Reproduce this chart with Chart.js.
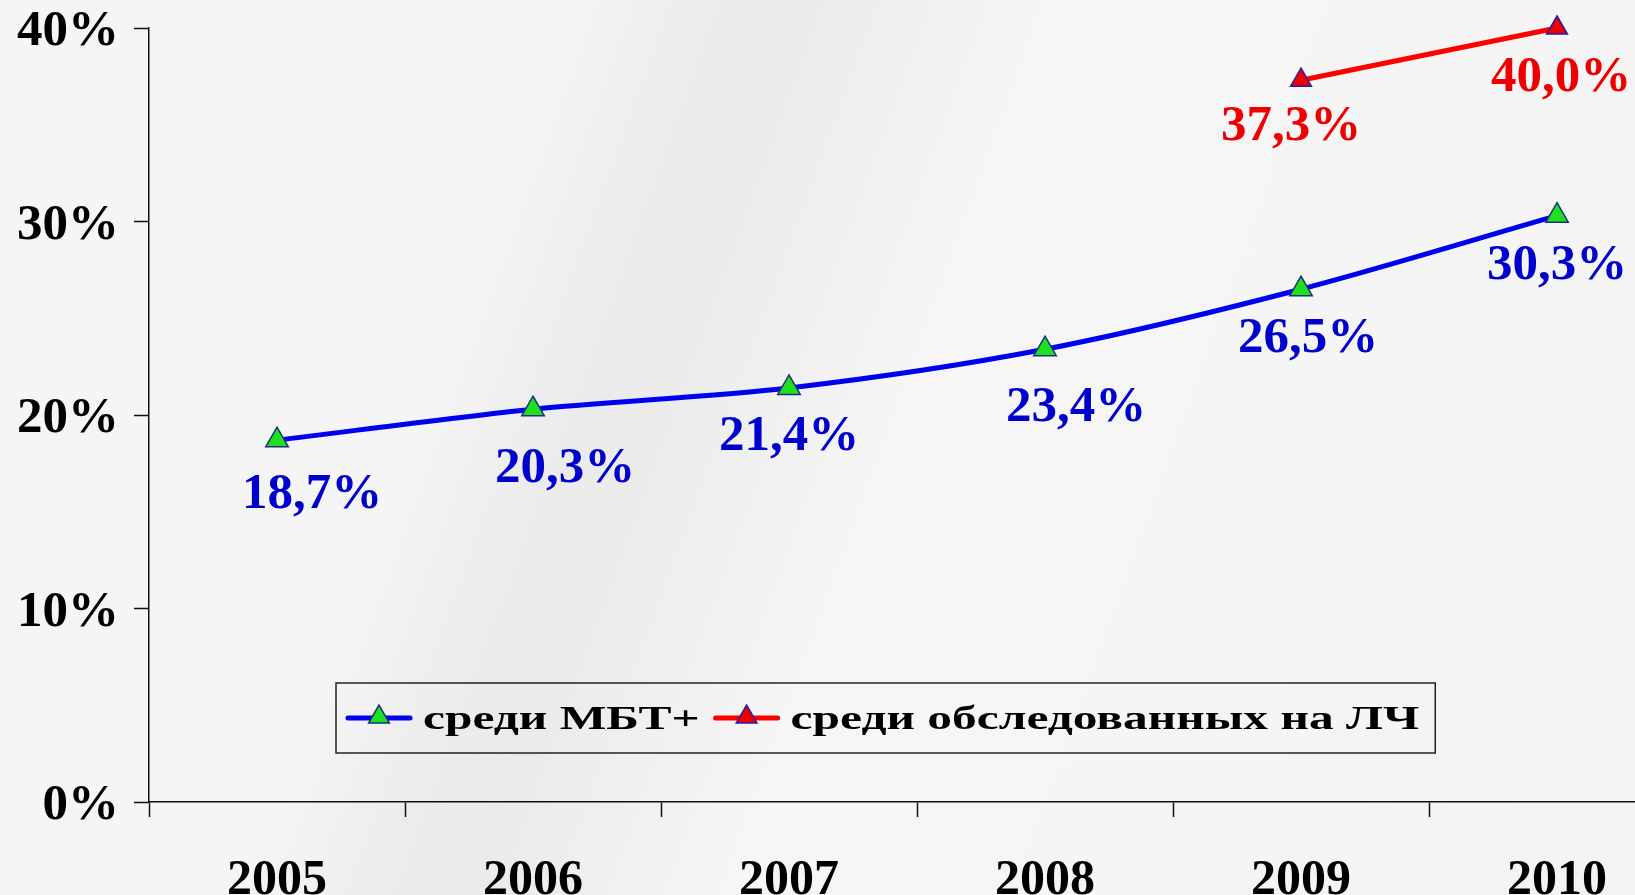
<!DOCTYPE html>
<html lang="ru">
<head>
<meta charset="UTF-8">
<title>Доля</title>
<style>
    html, body {
        margin: 0;
        padding: 0;
        width: 1635px;
        height: 895px;
        overflow: hidden;
        background: linear-gradient(110deg, #f5f5f5 0%, #f5f5f5 29%, #ececec 36%, #ebebeb 41%, #f6f6f6 54%, #f5f5f5 75%, #f3f3f3 100%);
    }
    canvas { display: block; }
</style>
<script src="https://cdn.jsdelivr.net/npm/chart.js"></script>
</head>
<body>
<canvas id="chart" width="1685" height="895"></canvas>
<script>
    // данные
    const years = ['2005', '2006', '2007', '2008', '2009', '2010'];
    const mbtValues = [18.7, 20.3, 21.4, 23.4, 26.5, 30.3];
    const lchValues = [null, null, null, null, 37.3, 40.0];
    const yTicks = [0, 10, 20, 30, 40];
    const seriesNames = ['среди МБТ+', 'среди обследованных на ЛЧ'];

    // сдвиг подписей относительно точек (px)
    const mbtLabelShift = [[35, 55], [32, 60], [0, 49], [31, 59], [7, 50], [0, 50]];
    const lchLabelShift = [null, null, null, null, [-10, 47], [4, 50]];

    const FONT = '"Liberation Serif", "Times New Roman", serif';

    function fmt(v) {
        return v.toFixed(1).replace('.', ',') + '%';
    }

    function triangle(ctx, x, y, r, fill, stroke) {
        ctx.beginPath();
        ctx.moveTo(x, y - r);
        ctx.lineTo(x + 0.866 * r, y + 0.5 * r);
        ctx.lineTo(x - 0.866 * r, y + 0.5 * r);
        ctx.closePath();
        ctx.fillStyle = fill;
        ctx.fill();
        ctx.lineWidth = 1.5;
        ctx.strokeStyle = stroke;
        ctx.stroke();
    }

    const valueLabels = {
        id: 'valueLabels',
        afterDatasetsDraw(chart) {
            const ctx = chart.ctx;
            ctx.save();
            ctx.font = 'bold 51px ' + FONT;
            ctx.textAlign = 'center';
            ctx.textBaseline = 'middle';
            chart.data.datasets.forEach((ds, i) => {
                const meta = chart.getDatasetMeta(i);
                meta.data.forEach((pt, j) => {
                    const v = ds.data[j];
                    if (v === null) return;
                    const s = ds.labelShift[j];
                    ctx.fillStyle = ds.labelColor;
                    ctx.fillText(fmt(v), pt.x + s[0], pt.y + s[1]);
                });
            });
            ctx.restore();
        }
    };

    // легенда в рамке, текст растянут по горизонтали как в оригинале
    const boxLegend = {
        id: 'boxLegend',
        afterDraw(chart) {
            const ctx = chart.ctx;
            const left = 336, top = 683, h = 70, stretch = 1.455, gap = 16;
            ctx.save();
            ctx.font = 'bold 34px ' + FONT;
            ctx.textBaseline = 'middle';
            let x = left + 12;
            const cy = top + h / 2;
            chart.data.datasets.forEach((ds, i) => {
                ctx.strokeStyle = ds.borderColor;
                ctx.lineWidth = 5;
                ctx.lineCap = 'round';
                ctx.beginPath();
                ctx.moveTo(x, cy);
                ctx.lineTo(x + 62, cy);
                ctx.stroke();
                triangle(ctx, x + 31, cy - 1, 12, ds.pointBackgroundColor, ds.pointBorderColor);
                x += 75;
                ctx.save();
                ctx.translate(x, cy + 2);
                ctx.scale(stretch, 1);
                ctx.fillStyle = '#000';
                ctx.fillText(ds.label, 0, 0);
                ctx.restore();
                x += ctx.measureText(ds.label).width * stretch + gap;
            });
            const w = x - gap + 16 - left;
            ctx.lineWidth = 1.5;
            ctx.strokeStyle = '#222';
            ctx.strokeRect(left, top, w, h);
            ctx.restore();
        }
    };

    new Chart(document.getElementById('chart'), {
        type: 'line',
        data: {
            labels: years,
            datasets: [
                {
                    label: seriesNames[0],
                    data: mbtValues,
                    borderColor: '#0000f0',
                    borderWidth: 5,
                    tension: 0.3,
                    pointStyle: 'triangle',
                    pointRadius: 13,
                    pointBackgroundColor: '#1ee01e',
                    pointBorderColor: '#1a2e80',
                    pointBorderWidth: 1.5,
                    labelColor: '#0000cc',
                    labelShift: mbtLabelShift
                },
                {
                    label: seriesNames[1],
                    data: lchValues,
                    borderColor: '#ff0000',
                    borderWidth: 5,
                    tension: 0,
                    pointStyle: 'triangle',
                    pointRadius: 12,
                    pointBackgroundColor: '#ee0000',
                    pointBorderColor: '#2a1aa0',
                    pointBorderWidth: 1.5,
                    labelColor: '#ee0000',
                    labelShift: lchLabelShift
                }
            ]
        },
        options: {
            responsive: false,
            animation: false,
            devicePixelRatio: 1,
            clip: false,
            layout: { autoPadding: false, padding: { top: 28, right: 0, left: 0, bottom: 0 } },
            plugins: {
                legend: { display: false },
                tooltip: { enabled: false }
            },
            scales: {
                x: {
                    offset: true,
                    afterFit(scale) {
                        scale.height = 93;
                        scale.paddingLeft = 0;
                        scale.paddingRight = 0;
                    },
                    grid: {
                        offset: true,
                        drawOnChartArea: false,
                        drawTicks: true,
                        tickLength: 15,
                        tickWidth: 1.5,
                        color: '#111'
                    },
                    border: { color: '#111', width: 1.5 },
                    ticks: {
                        color: '#000',
                        padding: 34,
                        font: { family: FONT, size: 50, weight: 'bold' }
                    }
                },
                y: {
                    min: 0,
                    max: 40,
                    afterFit(scale) {
                        scale.width = 149;
                        scale.paddingTop = 0;
                        scale.paddingBottom = 0;
                    },
                    afterBuildTicks(scale) {
                        scale.ticks = yTicks.map(v => ({ value: v }));
                    },
                    grid: {
                        drawOnChartArea: false,
                        drawTicks: true,
                        tickLength: 15,
                        tickWidth: 1.5,
                        color: '#111'
                    },
                    border: { color: '#111', width: 1.5 },
                    ticks: {
                        color: '#000',
                        padding: 15,
                        labelOffset: 4,
                        callback: v => v + '%',
                        font: { family: FONT, size: 51, weight: 'bold', lineHeight: 1 }
                    }
                }
            }
        },
        plugins: [valueLabels, boxLegend]
    });
</script>
</body>
</html>
